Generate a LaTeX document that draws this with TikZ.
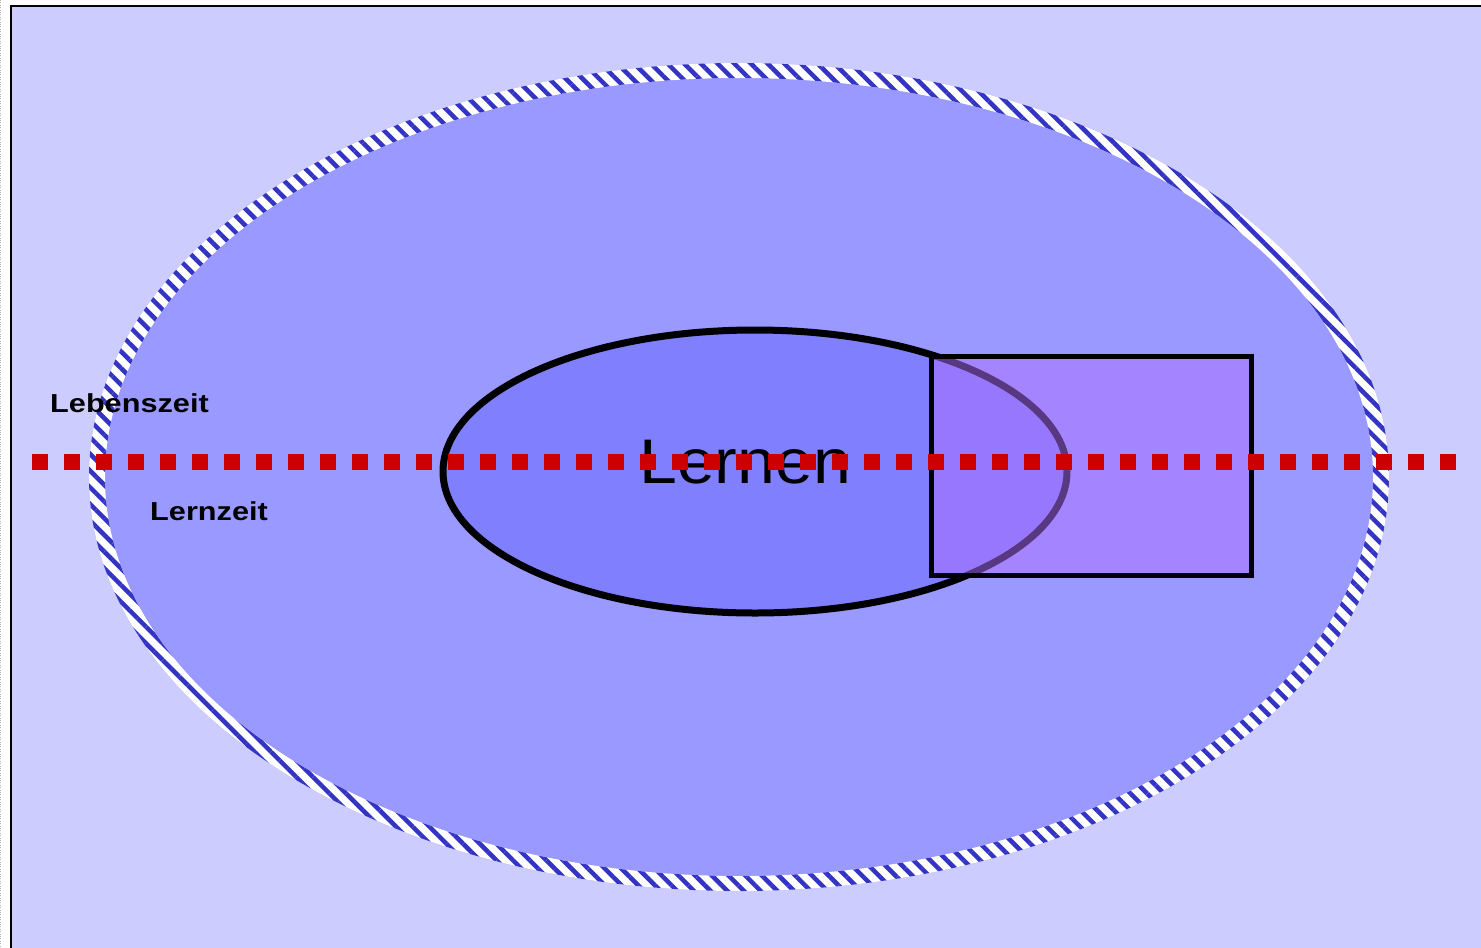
\documentclass[tikz,border=0pt]{standalone}
\usepackage{fontspec}
\setmainfont{Liberation Sans}
\newfontfamily\zeitfont{Liberation Sans}[FakeStretch=1.18]
\newfontfamily\lernfont{Liberation Sans}[FakeStretch=1.08]
\usetikzlibrary{patterns.meta, positioning}
\definecolor{pagebg}{HTML}{CCCCFF}
\definecolor{lebenblue}{HTML}{9999FF}
\definecolor{lernblue}{HTML}{8080FF}
\definecolor{ringblue}{HTML}{3333C4}
\definecolor{boxviolet}{HTML}{B070FF}
\definecolor{dotred}{HTML}{CC0000}
\tikzstyle{zeit}     = [font=\zeitfont\bfseries\fontsize{26}{30}\selectfont, inner sep=0pt, anchor=base west]
\tikzstyle{lern}     = [font=\lernfont\fontsize{63}{70}\selectfont, inner sep=0pt, anchor=base west]
\tikzstyle{ring}     = [pattern={Lines[angle=-45, distance=11.8pt, line width=4.5pt]}, pattern color=ringblue, even odd rule]
\tikzstyle{redline}  = [line width=16pt, dotred, dash pattern=on 16pt off 16pt]
\begin{document}
\begin{tikzpicture}[x=1pt, y=-1pt]

\useasboundingbox (0,0) rectangle (1481,948);
\clip (0,0) rectangle (1481,948);
\fill[white] (0,0) rectangle (1481,948);
\draw[gray!60, dotted] (0.5,0) -- (0.5,948);

% frame and page
\fill[pagebg] (10.5,6) rectangle (1500,960);
\draw[line width=2pt] (10.5,1000) -- (10.5,6) -- (1500,6);

% Lebenszeit
\fill[lebenblue] (739,477) ellipse [x radius=650, y radius=414];
\fill[white, even odd rule] (739,477) ellipse [x radius=650, y radius=414]
  (739,477) ellipse [x radius=634, y radius=399];
\fill[ring] (739,477) ellipse [x radius=650, y radius=414]
  (739,477) ellipse [x radius=634, y radius=399];

% Lernzeit
\draw[line width=7pt, fill=lernblue] (755,471.5) ellipse [x radius=312, y radius=141.5];
\node[lern] (lernen) at (639,483) {Lernen};

\fill[boxviolet, opacity=0.5] (931.5,356.5) rectangle (1251.5,575.5);
\draw[line width=5pt] (931.5,356.5) rectangle (1251.5,575.5);

\coordinate (linkS) at (32,462);
\coordinate (linkE) at (1456,462);
\draw[redline] (linkS) -- (linkE);

\node[zeit] (leben) at (50,412) {Lebenszeit};
\node[zeit] (lernzeit) at (150,520) {Lernzeit};

\end{tikzpicture}
\end{document}
